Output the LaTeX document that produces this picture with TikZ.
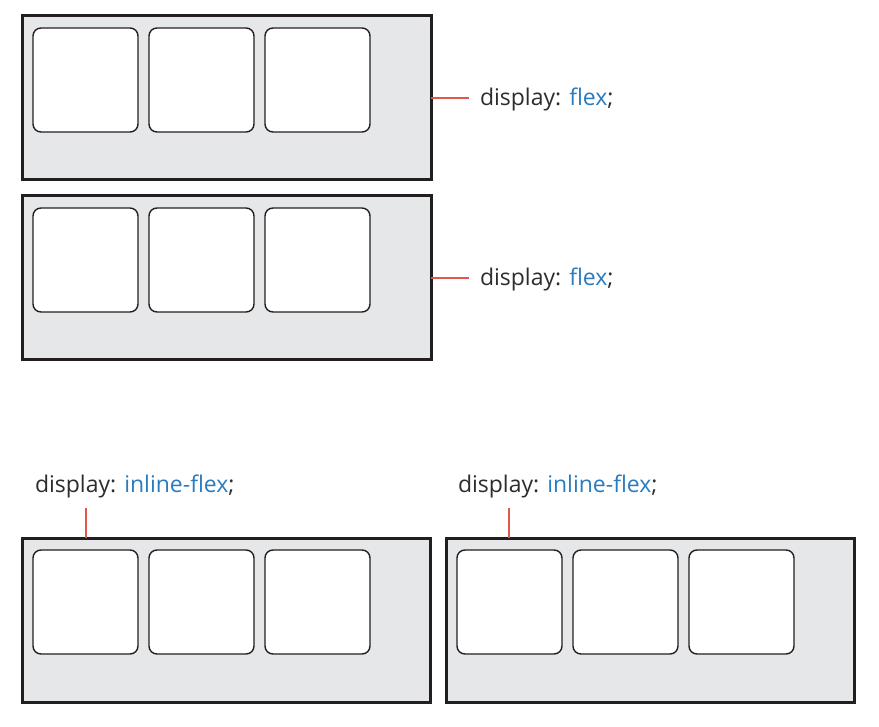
\documentclass[tikz,border=0pt]{standalone}
\usepackage{fontspec}
\setmainfont{Open Sans}
\usepackage{tikz}
\usetikzlibrary{positioning}
\definecolor{boxfill}{HTML}{E6E7E8}
\definecolor{boxline}{HTML}{231F20}
\definecolor{cssblue}{HTML}{2B7BBF}
\definecolor{cssgray}{HTML}{2E2C2D}
\definecolor{leader}{HTML}{E0584A}

\begin{document}
\begin{tikzpicture}[
  x=1pt, y=1pt,
  every node/.style={outer sep=0pt},
  container/.style={rectangle, draw=boxline, fill=boxfill, line width=3pt, minimum width=409pt, minimum height=164pt, inner sep=0pt},
  item/.style={rectangle, rounded corners=8pt, draw=boxline, fill=white, line width=1.4pt, minimum width=105pt, minimum height=104pt, inner sep=0pt},
  csstext/.style={inner sep=0pt, text=cssgray, font=\fontsize{23}{27}\selectfont},
  leaderline/.style={line width=1.2pt, color=leader}
]
\useasboundingbox (0,0) rectangle (879,-727);

% === TOP: block flex containers ===
\node[container] (flexA) at (226.5,-98) {};
\node[container, below=16pt of flexA] (flexB) {};

\node[item, below right=12pt and 11pt of flexA.north west] (a1) {};
\node[item, right=11pt of a1] (a2) {};
\node[item, right=11pt of a2] (a3) {};

\node[item, below right=12pt and 11pt of flexB.north west] (b1) {};
\node[item, right=11pt of b1] (b2) {};
\node[item, right=11pt of b2] (b3) {};

% Labels on the right
\node[csstext, right=49pt of flexA.east, anchor=base west, yshift=-8pt] (txtA) {display: \textcolor{cssblue}{flex};};
\node[csstext, right=49pt of flexB.east, anchor=base west, yshift=-8pt] (txtB) {display: \textcolor{cssblue}{flex};};

\draw[leaderline, shorten >=11pt] (flexA.east) -- (flexA.east -| txtA.west);
\draw[leaderline, shorten >=11pt] (flexB.east) -- (flexB.east -| txtB.west);

% === BOTTOM: inline flex containers ===
\node[container, minimum width=408pt] (inlA) at (226,-620) {};
\node[container, minimum width=408pt, right=16pt of inlA] (inlB) {};

\node[item, below right=12pt and 11pt of inlA.north west] (c1) {};
\node[item, right=11pt of c1] (c2) {};
\node[item, right=11pt of c2] (c3) {};

\node[item, below right=12pt and 11pt of inlB.north west] (d1) {};
\node[item, right=11pt of d1] (d2) {};
\node[item, right=11pt of d2] (d3) {};

% Labels above
\node[csstext, above=45pt of inlA.north west, anchor=base west, xshift=13pt] (txtC) {display: \textcolor{cssblue}{inline-flex};};
\node[csstext, above=45pt of inlB.north west, anchor=base west, xshift=12pt] (txtD) {display: \textcolor{cssblue}{inline-flex};};

\coordinate (tickC) at ([xshift=64pt]inlA.north west);
\coordinate (tickD) at ([xshift=63pt]inlB.north west);
\draw[leaderline, shorten >=9pt] (tickC) -- (tickC |- txtC.south);
\draw[leaderline, shorten >=9pt] (tickD) -- (tickD |- txtD.south);

\end{tikzpicture}
\end{document}
